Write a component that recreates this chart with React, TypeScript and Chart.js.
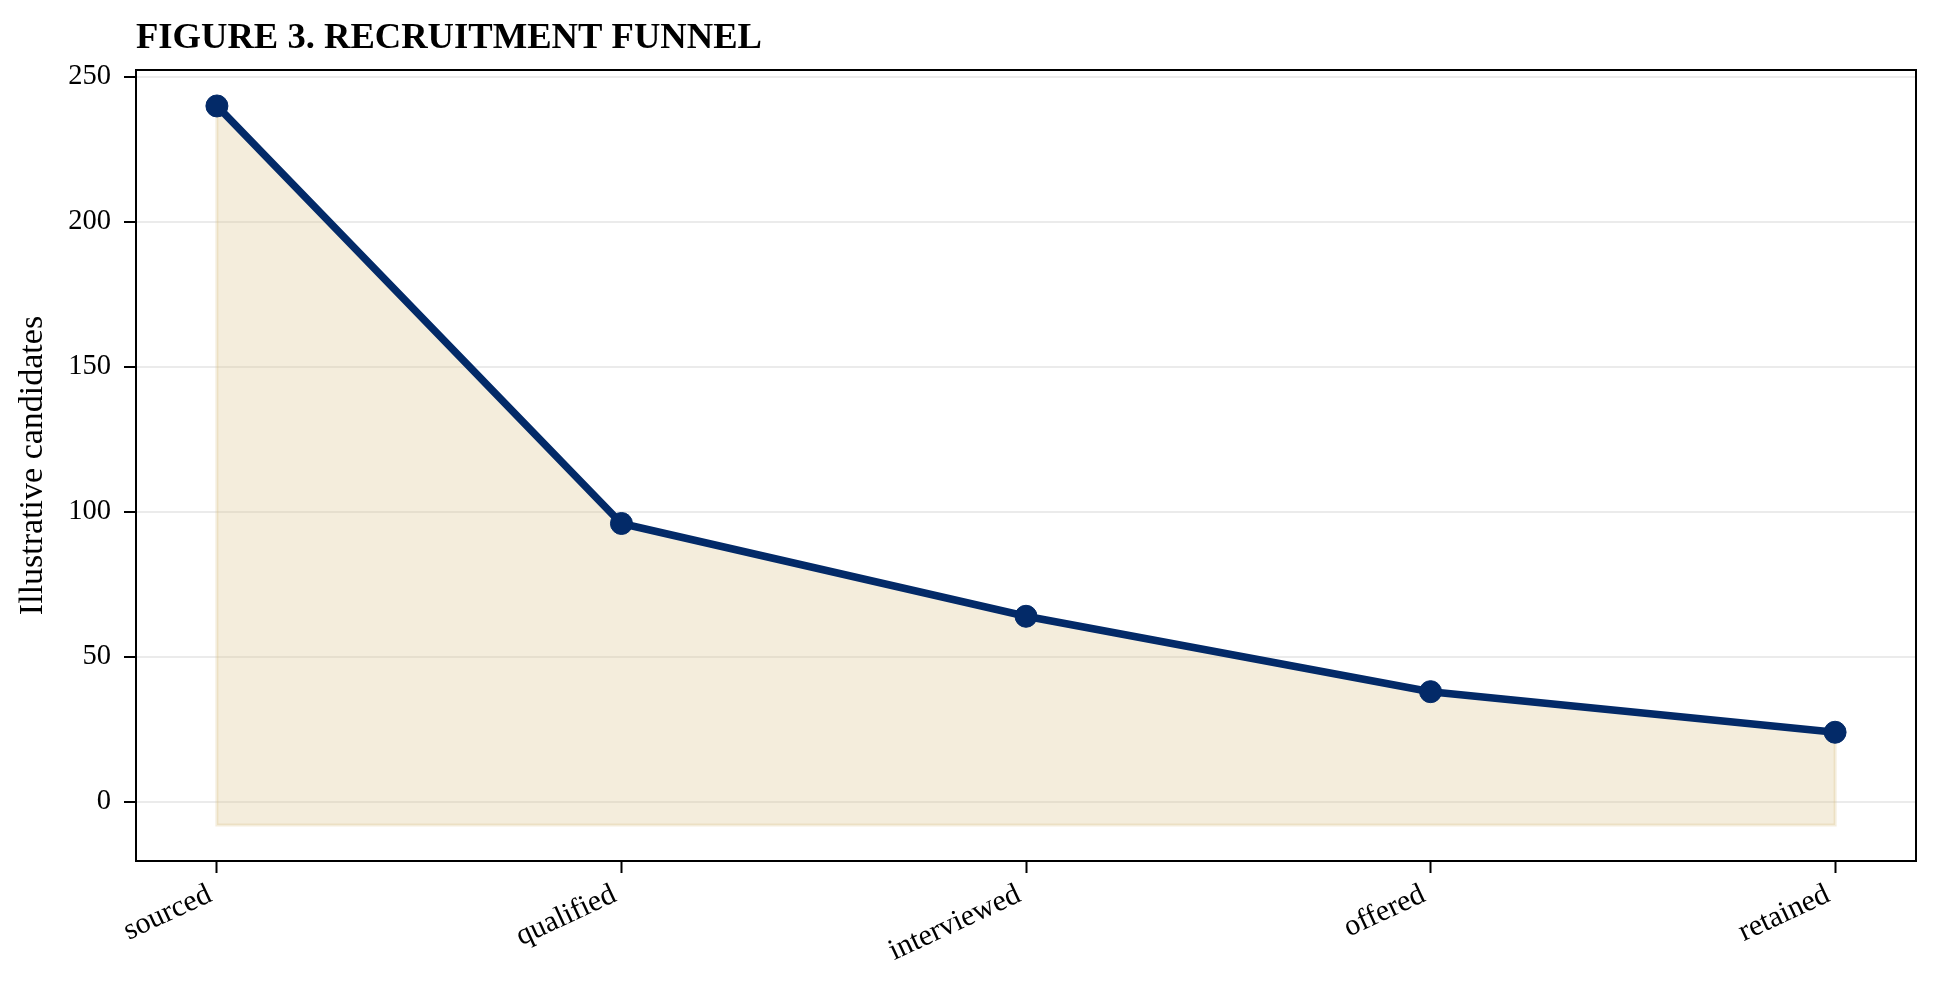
import React, { useEffect, useRef } from 'react';
import { Chart, registerables } from 'chart.js';

Chart.register(...registerables);

// funnel stages and illustrative counts
const stages = ['sourced', 'qualified', 'interviewed', 'offered', 'retained'];
const candidates = [240, 96, 64, 38, 24];
const yTicks = [0, 50, 100, 150, 200, 250];
const fillBase = -8;
const yMin = -20.4;
const yMax = 252.4;
const xPad = 0.2;

const TITLE = 'FIGURE 3. RECRUITMENT FUNNEL';
const Y_LABEL = 'Illustrative candidates';
const SERIF = '"Liberation Serif", "Times New Roman", serif';
const NAVY = '#032a68';
const SAND = 'rgba(215, 190, 130, 0.28)';

const framePlugin = {
  id: 'frame',
  beforeDatasetsDraw(chart: any) {
    // faint edge around the filled area, like the reference's fill outline
    const { ctx, scales } = chart;
    const { x, y } = scales;
    ctx.save();
    ctx.beginPath();
    ctx.moveTo(x.getPixelForValue(0), y.getPixelForValue(fillBase));
    candidates.forEach((v, i) => ctx.lineTo(x.getPixelForValue(i), y.getPixelForValue(v)));
    ctx.lineTo(x.getPixelForValue(candidates.length - 1), y.getPixelForValue(fillBase));
    ctx.closePath();
    ctx.strokeStyle = SAND;
    ctx.lineWidth = 3;
    ctx.stroke();
    ctx.restore();
  },
  afterDraw(chart: any) {
    const { ctx, chartArea: a } = chart;
    ctx.save();
    ctx.strokeStyle = '#000';
    ctx.lineWidth = 2;
    ctx.strokeRect(a.left, a.top, a.right - a.left, a.bottom - a.top);
    ctx.font = `bold 36.6px ${SERIF}`;
    ctx.fillStyle = '#000';
    ctx.textBaseline = 'alphabetic';
    ctx.textAlign = 'left';
    ctx.fillText(TITLE, a.left, a.top - 22);
    ctx.restore();
  },
};

export default function App() {
  const canvasRef = useRef<HTMLCanvasElement>(null);
  const chartRef = useRef<Chart | null>(null);

  useEffect(() => {
    document.body.style.margin = '0';
    if (!canvasRef.current) return;
    if (chartRef.current) chartRef.current.destroy();

    chartRef.current = new Chart(canvasRef.current, {
      type: 'line',
      data: {
        datasets: [
          {
            data: candidates.map((v, i) => ({ x: i, y: v })),
            borderColor: NAVY,
            backgroundColor: SAND,
            fill: { value: fillBase },
            borderWidth: 7.5,
            tension: 0,
            pointRadius: 11,
            pointBackgroundColor: NAVY,
            pointBorderColor: NAVY,
            pointBorderWidth: 1,
          },
        ],
      },
      options: {
        responsive: false,
        animation: false,
        devicePixelRatio: 1,
        layout: { padding: { top: 70, right: 24, left: 0, bottom: 0 } },
        plugins: {
          legend: { display: false },
          tooltip: { enabled: false },
          title: { display: false },
        },
        scales: {
          x: {
            type: 'linear',
            min: -xPad,
            max: stages.length - 1 + xPad,
            afterBuildTicks: (s: any) => {
              s.ticks = stages.map((_, i) => ({ value: i }));
            },
            afterFit: (s: any) => {
              s.height = 122;
            },
            border: { display: false },
            grid: {
              drawOnChartArea: false,
              tickLength: 12,
              tickColor: '#000',
              tickWidth: 2,
            },
            ticks: {
              autoSkip: false,
              minRotation: 25,
              maxRotation: 25,
              padding: 4,
              labelOffset: -7,
              color: '#000',
              font: { family: SERIF, size: 30 },
              callback: (v: any) => stages[v] ?? '',
            },
          },
          y: {
            type: 'linear',
            min: yMin,
            max: yMax,
            afterBuildTicks: (s: any) => {
              s.ticks = yTicks.map((v) => ({ value: v }));
            },
            afterFit: (s: any) => {
              s.width = 136;
            },
            border: { display: false },
            grid: {
              color: 'rgba(0, 0, 0, 0.08)',
              lineWidth: 2,
              tickLength: 12,
              tickColor: '#000',
              tickWidth: 2,
            },
            ticks: { padding: 13, color: '#000', font: { family: SERIF, size: 28.5 } },
            title: {
              display: true,
              text: Y_LABEL,
              color: '#000',
              font: { family: SERIF, size: 34 },
              padding: { top: 13, bottom: 0 },
            },
          },
        },
      },
      plugins: [framePlugin],
    } as any);

    return () => {
      if (chartRef.current) {
        chartRef.current.destroy();
        chartRef.current = null;
      }
    };
  }, []);

  return (
    <div style={{ width: 1940, height: 983, background: '#fff' }}>
      <canvas ref={canvasRef} width={1940} height={983} style={{ display: 'block' }} />
    </div>
  );
}
